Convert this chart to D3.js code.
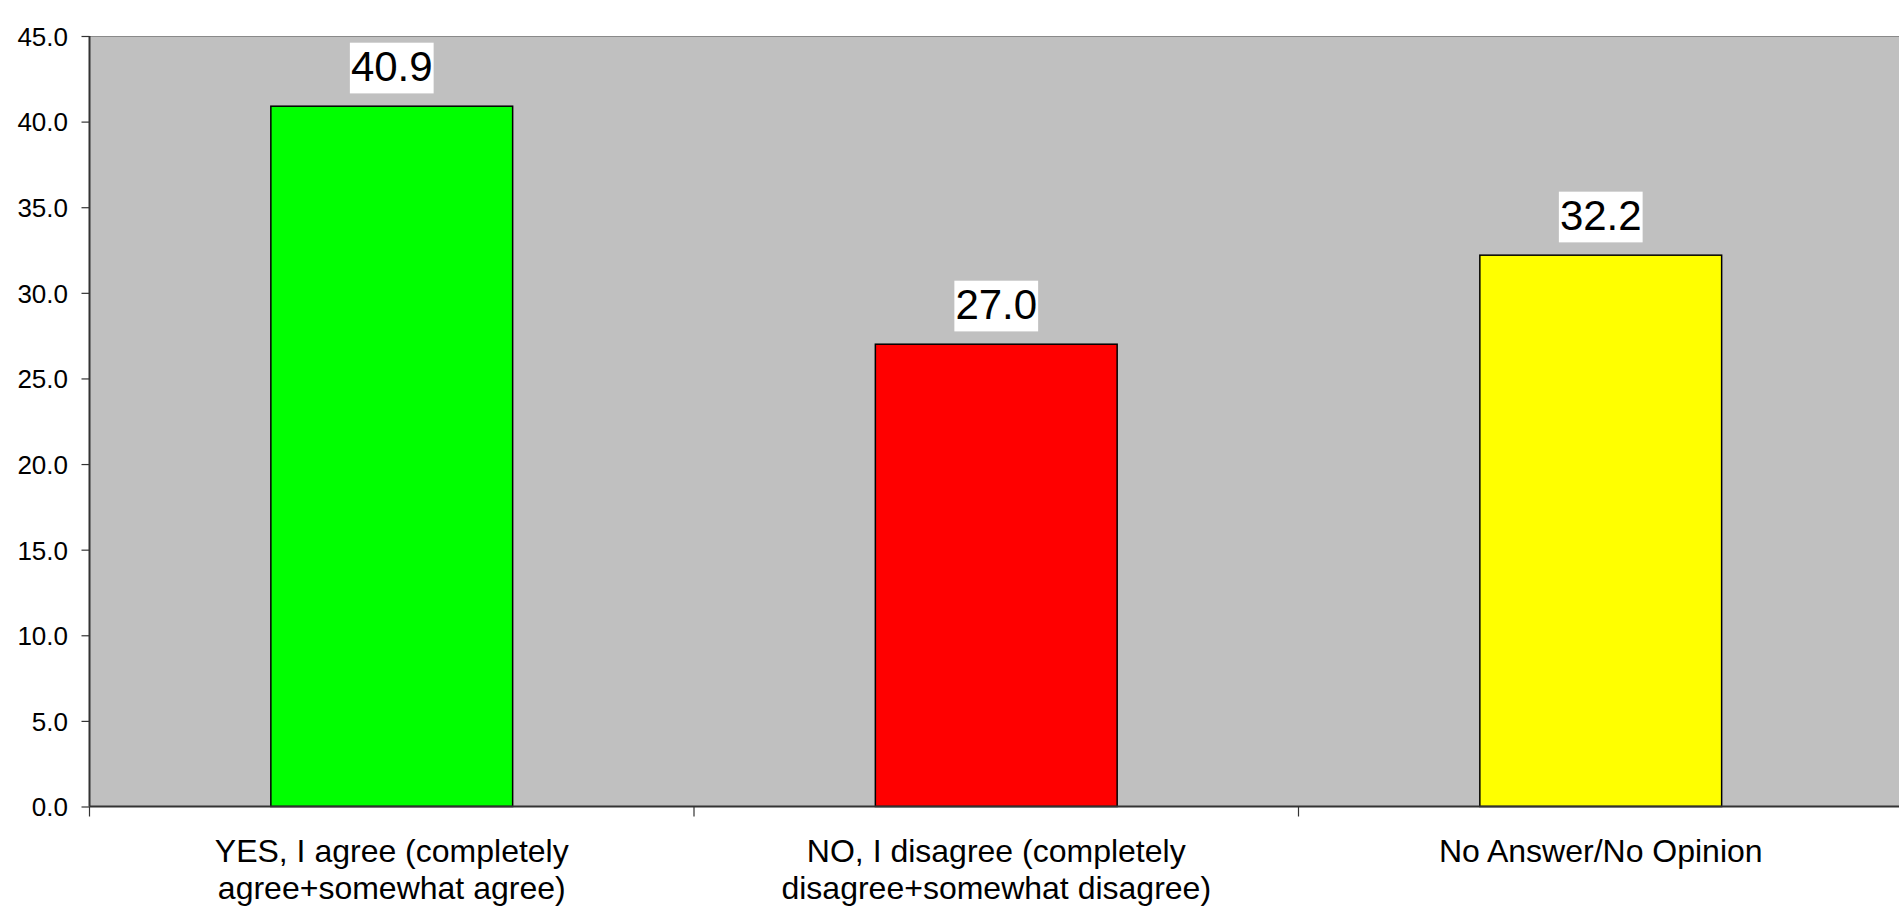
<!DOCTYPE html>
<html>
<head>
<meta charset="utf-8">
<script src="https://cdn.jsdelivr.net/npm/d3@7/dist/d3.min.js"></script>
<style>
  html, body { margin: 0; padding: 0; background: #ffffff; overflow: hidden; }
  svg { display: block; font-family: "Liberation Sans", Arial, sans-serif; }
</style>
</head>
<body>
<svg id="chart" width="1899" height="908"></svg>
<script>
const categories = ["YES, I agree (completely agree+somewhat agree)",
                    "NO, I disagree (completely disagree+somewhat disagree)",
                    "No Answer/No Opinion"];
const categoryLines = [["YES, I agree (completely", "agree+somewhat agree)"],
                       ["NO, I disagree (completely", "disagree+somewhat disagree)"],
                       ["No Answer/No Opinion"]];
const values = [40.9, 27.0, 32.2];
const barColors = ["#00FF00", "#FF0000", "#FFFF00"];
const yTicks = [0, 5, 10, 15, 20, 25, 30, 35, 40, 45];

const svg = d3.select("#chart");
const plotLeft = 89.5, plotTop = 36, plotBottom = 806.5, bandStep = 604.5;
const plotRight = plotLeft + bandStep * categories.length;

const x = d3.scaleBand().domain(categories).range([plotLeft, plotRight]).padding(0);
const y = d3.scaleLinear().domain([0, 45]).range([plotBottom, plotTop]);
const barW = x.bandwidth() * 0.4;

// plot background
svg.append("rect")
  .attr("x", plotLeft).attr("y", plotTop)
  .attr("width", plotRight - plotLeft).attr("height", plotBottom - plotTop)
  .attr("fill", "#C0C0C0");
svg.append("line")
  .attr("x1", plotLeft).attr("x2", plotRight)
  .attr("y1", plotTop + 0.5).attr("y2", plotTop + 0.5)
  .attr("stroke", "#8a8a8a").attr("stroke-width", 1);

// bars
svg.append("g").selectAll("rect").data(values).join("rect")
  .attr("x", (d, i) => x(categories[i]) + (x.bandwidth() - barW) / 2)
  .attr("y", d => y(d))
  .attr("width", barW)
  .attr("height", d => y(0) - y(d))
  .attr("fill", (d, i) => barColors[i])
  .attr("stroke", "#000").attr("stroke-width", 1.5);

// y axis
const yAxis = svg.append("g")
  .attr("transform", `translate(${plotLeft},0)`)
  .call(d3.axisLeft(y).tickValues(yTicks).tickFormat(d3.format(".1f")).tickSize(8).tickPadding(13.5));
yAxis.select(".domain").attr("stroke", "#333").attr("stroke-width", 2)
  .attr("d", `M0,${plotTop}V${plotBottom}`);
yAxis.selectAll(".tick line").attr("stroke", "#333").attr("stroke-width", 1.2);
yAxis.selectAll(".tick text").attr("font-size", 26).attr("fill", "#000")
  .attr("font-family", "Liberation Sans, Arial, sans-serif").attr("dy", "0.36em");

// x axis line
svg.append("line")
  .attr("x1", plotLeft).attr("x2", plotRight)
  .attr("y1", plotBottom).attr("y2", plotBottom)
  .attr("stroke", "#333").attr("stroke-width", 2);
// x category boundary ticks
svg.append("g").selectAll("line").data(categories).join("line")
  .attr("x1", d => x(d)).attr("x2", d => x(d))
  .attr("y1", plotBottom).attr("y2", plotBottom + 10)
  .attr("stroke", "#333").attr("stroke-width", 1.2);

// category labels
const catG = svg.append("g").selectAll("text").data(categories).join("text")
  .attr("text-anchor", "middle")
  .attr("font-size", 32)
  .attr("fill", "#000");
catG.each(function(d, i) {
  const t = d3.select(this);
  categoryLines[i].forEach((line, j) => {
    t.append("tspan")
      .attr("x", x(d) + x.bandwidth() / 2)
      .attr("y", plotBottom + 55.5 + j * 36.5)
      .text(line);
  });
});

// value labels with white boxes
const labG = svg.append("g");
values.forEach((v, i) => {
  const cx = x(categories[i]) + x.bandwidth() / 2;
  const base = y(v) - 25;
  const g = labG.append("g");
  const bg = g.append("rect").attr("fill", "#fff");
  const t = g.append("text")
    .attr("x", cx).attr("y", base)
    .attr("text-anchor", "middle")
    .attr("font-size", 42)
    .attr("fill", "#000")
    .text(d3.format(".1f")(v));
  const bb = t.node().getBBox();
  bg.attr("x", bb.x - 1).attr("width", bb.width + 2)
    .attr("y", base - 38.5).attr("height", 50.7);
});
</script>
</body>
</html>
